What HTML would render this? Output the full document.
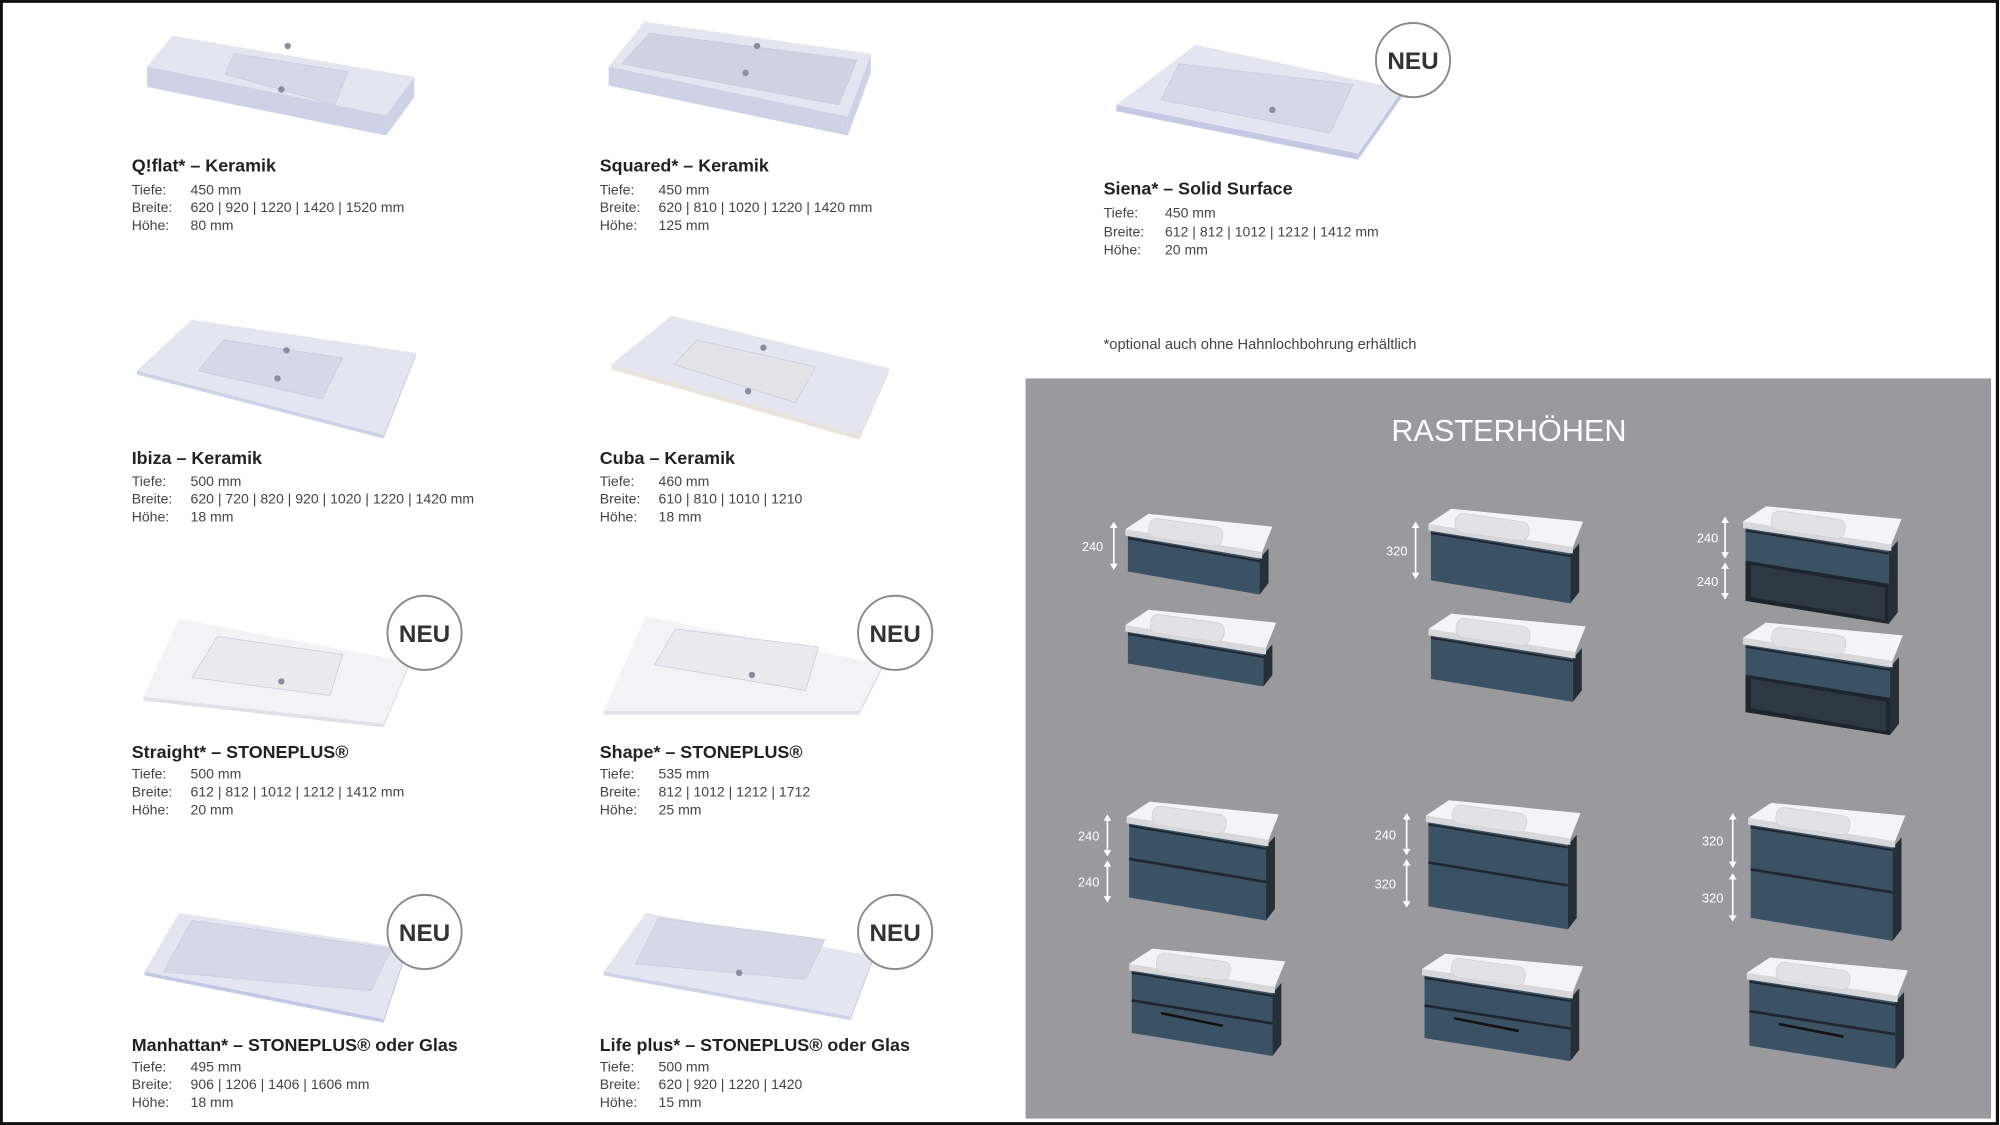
<!DOCTYPE html>
<html><head><meta charset="utf-8">
<style>
html,body{margin:0;padding:0;background:#fff;width:2000px;height:1125px;overflow:hidden}
svg{display:block}
text{font-family:"Liberation Sans Narrow","Liberation Sans",sans-serif}
.t{font-weight:bold;font-size:14px;fill:#222}
.d{font-size:11px;fill:#444}
.w{font-size:10px;fill:#fff}
</style></head><body>
<svg id="s" width="2000" height="1125" viewBox="0 0 1564 880" preserveAspectRatio="none" xmlns="http://www.w3.org/2000/svg">
<rect x="0" y="0" width="1564" height="880" fill="#fff"/>
<rect x="1" y="1" width="1561" height="878" fill="none" stroke="#111" stroke-width="2.5"/>
<rect x="802" y="296" width="755" height="579" fill="#9a9a9e"/>
<text x="1180" y="345" text-anchor="middle" font-size="24" fill="#fff" style="font-weight:300">RASTERHÖHEN</text>

<g id="sinks"></g>
<g id="cabs"></g>

<g>
<text class="t" x="103" y="134">Q!flat* – Keramik</text>
<text class="d" x="103" y="152">Tiefe:</text><text class="d" x="149" y="152">450 mm</text>
<text class="d" x="103" y="166">Breite:</text><text class="d" x="149" y="166">620 | 920 | 1220 | 1420 | 1520 mm</text>
<text class="d" x="103" y="180">Höhe:</text><text class="d" x="149" y="180">80 mm</text>

<text class="t" x="469" y="134">Squared* – Keramik</text>
<text class="d" x="469" y="152">Tiefe:</text><text class="d" x="515" y="152">450 mm</text>
<text class="d" x="469" y="166">Breite:</text><text class="d" x="515" y="166">620 | 810 | 1020 | 1220 | 1420 mm</text>
<text class="d" x="469" y="180">Höhe:</text><text class="d" x="515" y="180">125 mm</text>

<text class="t" x="863" y="152">Siena* – Solid Surface</text>
<text class="d" x="863" y="170">Tiefe:</text><text class="d" x="911" y="170">450 mm</text>
<text class="d" x="863" y="185">Breite:</text><text class="d" x="911" y="185">612 | 812 | 1012 | 1212 | 1412 mm</text>
<text class="d" x="863" y="199">Höhe:</text><text class="d" x="911" y="199">20 mm</text>
<text class="d" x="863" y="273" style="font-size:11.5px">*optional auch ohne Hahnlochbohrung erhältlich</text>

<text class="t" x="103" y="363">Ibiza – Keramik</text>
<text class="d" x="103" y="380">Tiefe:</text><text class="d" x="149" y="380">500 mm</text>
<text class="d" x="103" y="394">Breite:</text><text class="d" x="149" y="394">620 | 720 | 820 | 920 | 1020 | 1220 | 1420 mm</text>
<text class="d" x="103" y="408">Höhe:</text><text class="d" x="149" y="408">18 mm</text>

<text class="t" x="469" y="363">Cuba – Keramik</text>
<text class="d" x="469" y="380">Tiefe:</text><text class="d" x="515" y="380">460 mm</text>
<text class="d" x="469" y="394">Breite:</text><text class="d" x="515" y="394">610 | 810 | 1010 | 1210</text>
<text class="d" x="469" y="408">Höhe:</text><text class="d" x="515" y="408">18 mm</text>

<text class="t" x="103" y="593">Straight* – STONEPLUS®</text>
<text class="d" x="103" y="609">Tiefe:</text><text class="d" x="149" y="609">500 mm</text>
<text class="d" x="103" y="623">Breite:</text><text class="d" x="149" y="623">612 | 812 | 1012 | 1212 | 1412 mm</text>
<text class="d" x="103" y="637">Höhe:</text><text class="d" x="149" y="637">20 mm</text>

<text class="t" x="469" y="593">Shape* – STONEPLUS®</text>
<text class="d" x="469" y="609">Tiefe:</text><text class="d" x="515" y="609">535 mm</text>
<text class="d" x="469" y="623">Breite:</text><text class="d" x="515" y="623">812 | 1012 | 1212 | 1712</text>
<text class="d" x="469" y="637">Höhe:</text><text class="d" x="515" y="637">25 mm</text>

<text class="t" x="103" y="822">Manhattan* – STONEPLUS® oder Glas</text>
<text class="d" x="103" y="838">Tiefe:</text><text class="d" x="149" y="838">495 mm</text>
<text class="d" x="103" y="852">Breite:</text><text class="d" x="149" y="852">906 | 1206 | 1406 | 1606 mm</text>
<text class="d" x="103" y="866">Höhe:</text><text class="d" x="149" y="866">18 mm</text>

<text class="t" x="469" y="822">Life plus* – STONEPLUS® oder Glas</text>
<text class="d" x="469" y="838">Tiefe:</text><text class="d" x="515" y="838">500 mm</text>
<text class="d" x="469" y="852">Breite:</text><text class="d" x="515" y="852">620 | 920 | 1220 | 1420</text>
<text class="d" x="469" y="866">Höhe:</text><text class="d" x="515" y="866">15 mm</text>
</g>
<g id="neu"></g>
<g id="arr"></g>
</svg>
<script>
var NS="http://www.w3.org/2000/svg";
function el(p,tag,a,txt){var e=document.createElementNS(NS,tag);for(var k in a)e.setAttribute(k,a[k]);if(txt)e.textContent=txt;document.getElementById(p).appendChild(e);return e;}
function P(a){return a.map(function(p){return p[0]+","+p[1]}).join(" ");}
function sink(q,th,b,top,front,basin){
  var FL=q[0],FR=q[3],BR=q[2];
  el("sinks","polygon",{points:P([FL,FR,[FR[0],FR[1]+th],[FL[0],FL[1]+th]]),fill:front});
  el("sinks","polygon",{points:P([FR,BR,[BR[0],BR[1]+th],[FR[0],FR[1]+th]]),fill:front});
  el("sinks","polygon",{points:P(q),fill:top});
  el("sinks","polygon",{points:P(b),fill:basin,stroke:"#c8cadb","stroke-width":0.6,"stroke-linejoin":"round"});
}
var T="#e4e5f1",F="#cfd1e6",B="#d6d8e8";
sink([[115,52],[135,28],[324,60],[302,90]],16,[[176,58],[183,42],[272,56],[262,82]],T,F,B);
sink([[476,52],[504,17],[681,42],[663,91]],15,[[486,50],[508,26],[670,47],[656,82]],T,F,"#d0d2e2");
sink([[873,82],[935,35],[1097,70],[1062,120]],5,[[908,78],[922,50],[1058,66],[1040,104]],T,"#c5c8e4",B);
sink([[107,290],[150,250],[325,276],[300,340]],3,[[155,290],[175,266],[268,280],[252,312]],T,F,B);
sink([[478,285],[525,247],[695,288],[672,340]],4,[[527,285],[545,266],[638,287],[622,315]],T,"#e8e4dc","#e2e2e8");
sink([[112,545],[140,484],[320,518],[300,566]],3,[[150,530],[170,498],[268,512],[258,544]],"#f3f3f5","#e0e0e6","#ebebef");
sink([[472,556],[505,482],[690,520],[672,556]],3,[[512,520],[528,492],[640,506],[630,540]],"#f3f3f5","#e0e0e6","#ebebef");
sink([[113,760],[140,714],[318,742],[300,797]],3,[[128,760],[150,720],[306,742],[290,775]],T,"#c5c8e4",B);
sink([[472,760],[505,714],[683,748],[665,795]],3,[[497,754],[515,718],[645,735],[630,766]],T,F,B);
[[220,70],[225,36],[583,57],[592,36],[995,86],[217,296],[224,274],[585,306],[597,272],[220,533],[588,528],[578,761]].forEach(function(c){el("sinks","circle",{cx:c[0],cy:c[1],r:2.5,fill:"#8a8ca0"});});
[[332,495],[700,495],[332,729],[700,729],[1105,47]].forEach(function(c){
  el("neu","circle",{cx:c[0],cy:c[1],r:29,fill:"#fff",stroke:"#8a8a8a","stroke-width":1.5});
  el("neu","text",{x:c[0],y:c[1]+7,"text-anchor":"middle","font-size":19,"font-weight":"bold",fill:"#333"},"NEU");
});
function cab(x0,y0,x1,y1,mode){
  var g="cabs";
  var top=[[x0,y0+12],[x0+18,y0],[x1,y0+10],[x1-8,y0+30]];
  var fTL=[x0+2,y0+17],fTR=[x1-10,y0+35],fBR=[x1-10,y1],fBL=[x0+2,y1-18];
  el(g,"polygon",{points:P([fTL,fTR,fBR,fBL]),fill:"#3b5265"});
  el(g,"polygon",{points:P([fTR,[x1-3,y0+27],[x1-3,y1-9],fBR]),fill:"#262e38"});
  if(mode){
    var f=mode==="open"?0.45:0.48;
    var l=[x0+2,fTL[1]+(fBL[1]-fTL[1])*f],r=[x1-10,fTR[1]+(fBR[1]-fTR[1])*f];
    if(mode==="open"){el(g,"polygon",{points:P([l,r,fBR,fBL]),fill:"#1e252d"});
      el(g,"polygon",{points:P([[l[0]+4,l[1]+3],[r[0]-3,r[1]+3],[fBR[0]-3,fBR[1]-3],[fBL[0]+4,fBL[1]-3]]),fill:"#2d3843"});}
    else el(g,"line",{x1:l[0],y1:l[1],x2:r[0],y2:r[1],stroke:"#1d2630","stroke-width":2});
    if(mode==="handle"){el(g,"line",{x1:x0+25,y1:l[1]+10,x2:x0+(x1-x0)*0.6,y2:l[1]+10+(r[1]-l[1])*0.55,stroke:"#111","stroke-width":2});}
  }
  el(g,"line",{x1:fTL[0],y1:fTL[1]+2,x2:fTR[0],y2:fTR[1]+2,stroke:"#1d2630","stroke-width":1.5});
  el(g,"polygon",{points:P([top[0],top[3],[top[3][0],top[3][1]+5],[top[0][0],top[0][1]+5]]),fill:"#d8d8dc"});
  el(g,"polygon",{points:P(top),fill:"#f4f4f6"});
  var cx=x0+(x1-x0)*0.42,cy=y0+14;
  el(g,"rect",{x:cx-30,y:cy-7,width:58,height:15,rx:6,fill:"#e2e2e6",stroke:"#cfcfd4","stroke-width":0.6,transform:"rotate(8 "+cx+" "+cy+")"});
}
cab(880,402,995,465,0);
cab(1117,398,1238,472,0);
cab(1363,396,1487,488,"open");
cab(880,477,998,537,0);
cab(1117,480,1240,549,0);
cab(1363,487,1488,575,"open");
cab(881,627,1000,720,"line");
cab(1115,626,1236,727,"line");
cab(1367,628,1490,736,"line");
cab(883,742,1005,826,"handle");
cab(1112,746,1238,830,"handle");
cab(1366,749,1492,836,"handle");
function arrow(x,a,b,lab,lx){
  el("arr","line",{x1:x,y1:a+3,x2:x,y2:b-3,stroke:"#fff","stroke-width":1.3});
  el("arr","polygon",{points:P([[x-3,a+5],[x,a],[x+3,a+5]]),fill:"#fff"});
  el("arr","polygon",{points:P([[x-3,b-5],[x,b],[x+3,b-5]]),fill:"#fff"});
  el("arr","text",{x:lx,y:(a+b)/2+4,class:"w"},lab);
}
arrow(871,408,446,"240",846);
arrow(1107,408,453,"320",1084);
arrow(1349,404,437,"240",1327);
arrow(1349,440,469,"240",1327);
arrow(866,637,670,"240",843);
arrow(866,673,706,"240",843);
arrow(1100,636,669,"240",1075);
arrow(1100,672,710,"320",1075);
arrow(1355,636,679,"320",1331);
arrow(1355,683,721,"320",1331);
</script>
</body></html>
